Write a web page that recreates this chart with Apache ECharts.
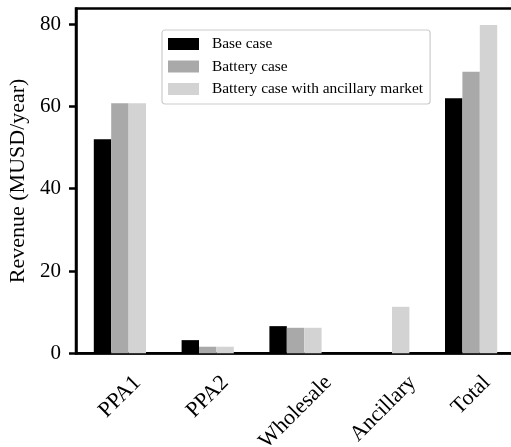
<!DOCTYPE html>
<html>
<head>
<meta charset="utf-8">
<script src="https://cdn.jsdelivr.net/npm/echarts@6/dist/echarts.min.js"></script>
<style>
  html, body { margin: 0; padding: 0; background: #fff; }
  #chart { width: 511px; height: 447px; }
</style>
</head>
<body>
<div id="chart"></div>
<script>
// Revenue per stream (MUSD/year) for the three cases
const categories = ['PPA1', 'PPA2', 'Wholesale', 'Ancillary', 'Total'];
const seriesNames = ['Base case', 'Battery case', 'Battery case with ancillary market'];
const baseCase = [52.0, 3.2, 6.6, 0, 62.0];
const batteryCase = [60.8, 1.6, 6.2, 0, 68.4];
const batteryAncillary = [60.8, 1.6, 6.2, 11.3, 79.8];
const yTicks = [0, 20, 40, 60, 80];

const serif = '"Liberation Serif", "Times New Roman", serif';
const tickFont = 21;
const catFont = 22;
const colors = ['#000000', '#a9a9a9', '#d3d3d3'];

// Rotated category labels are centred under their tick with the top of the
// rotated box on a common line: pad each label by half its own length.
const ctx = document.createElement('canvas').getContext('2d');
ctx.font = catFont + 'px ' + serif;
const rich = {};
categories.forEach((c, i) => {
  const L = ctx.measureText(c).width;
  rich['c' + i] = {
    fontSize: catFont, fontFamily: serif, color: '#000',
    padding: [L / 2, L / 2, 0, 0]
  };
});

const chart = echarts.init(document.getElementById('chart'), null, { renderer: 'canvas' });

const values = [baseCase, batteryCase, batteryAncillary];

chart.setOption({
  animation: false,
  backgroundColor: '#fff',
  textStyle: { fontFamily: serif },
  grid: {
    left: 76, top: 8.5, right: -4, bottom: 447 - 353.3,
    outerBoundsMode: 'none',
    containLabel: false,
    show: true, borderColor: '#000', borderWidth: 2.5, backgroundColor: 'transparent'
  },
  legend: {
    orient: 'vertical',
    left: 162, top: 30,
    padding: [6.5, 7, 7.5, 6],
    itemWidth: 31, itemHeight: 12, itemGap: 7.5,
    backgroundColor: 'rgba(255,255,255,0.8)',
    borderColor: '#cccccc', borderWidth: 1.2, borderRadius: 3,
    icon: 'rect',
    textStyle: { fontFamily: serif, fontSize: 15.4, color: '#000', lineHeight: 15, padding: [0, 0, 0, 8] },
    data: seriesNames
  },
  xAxis: {
    type: 'category',
    data: categories,
    boundaryGap: true,
    axisLine: { lineStyle: { color: '#000', width: 2.5 } },
    axisTick: { alignWithLabel: true, length: 7, lineStyle: { color: '#000', width: 2.5 } },
    axisLabel: {
      rotate: 45, align: 'center', verticalAlign: 'middle', margin: 26,
      interval: 0,
      hideOverlap: false,
      formatter: (v, i) => '{c' + i + '|' + v + '}',
      rich: rich
    },
    splitLine: { show: false }
  },
  yAxis: {
    type: 'value',
    min: 0, max: 83.8, interval: 20,
    name: 'Revenue (MUSD/year)',
    nameLocation: 'middle',
    nameGap: 44,
    nameTextStyle: { fontFamily: serif, fontSize: 22, color: '#000' },
    axisLine: { show: true, lineStyle: { color: '#000', width: 2.5 } },
    axisTick: { show: true, length: 7, customValues: yTicks, lineStyle: { color: '#000', width: 2.5 } },
    axisLabel: { customValues: yTicks, fontFamily: serif, fontSize: tickFont, color: '#000', margin: 15 },
    splitLine: { show: false }
  },
  series: seriesNames.map((name, k) => ({
    name: name,
    type: 'bar',
    data: values[k],
    barWidth: 17.4,
    barGap: '0%',
    itemStyle: { color: colors[k] }
  }))
});
</script>
</body>
</html>
